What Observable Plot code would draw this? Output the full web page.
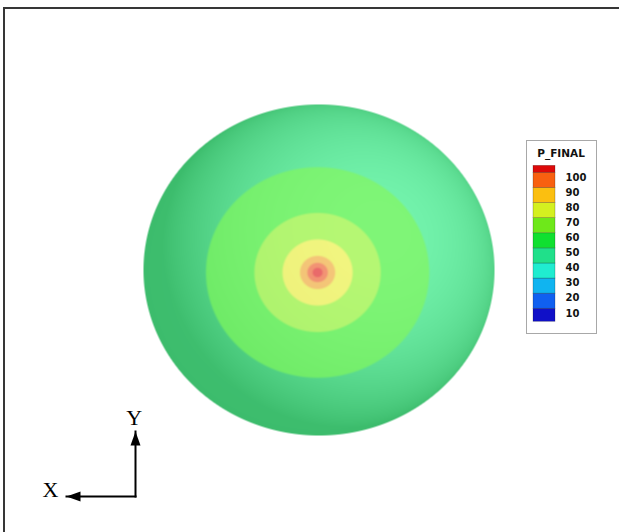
<!DOCTYPE html>
<html>
<head>
<meta charset="utf-8">
<script src="https://cdn.jsdelivr.net/npm/d3@7"></script>
<script src="https://cdn.jsdelivr.net/npm/@observablehq/plot@0.6"></script>
<style>
  html, body { margin: 0; padding: 0; background: #fff; }
  #wrap { position: relative; width: 619px; height: 532px; overflow: hidden; background: #fff; }
  #frame { position: absolute; left: 3px; top: 7px; right: -10px; bottom: -10px;
           border-top: 2px solid #363636; border-left: 2px solid #363636; }
  #sphere { position: absolute; left: 0; top: 0; width: 619px; height: 532px; }
  #legend { position: absolute; left: 526px; top: 140px; width: 69px; height: 192px;
            border: 1px solid #a8a8a8; background: #fff; }
  #triad { position: absolute; left: 30px; top: 400px; width: 130px; height: 110px; }
</style>
</head>
<body>
<div id="wrap">
  <div id="frame"></div>
  <div id="sphere"></div>
  <div id="legend"></div>
  <div id="triad"></div>
</div>
<script>
// ---------------- DATA ----------------
// contour bands on the sphere, outer to inner (lower bound of each band)
const contourLevels = [40, 50, 60, 70, 80, 90, 100];
// radius (fraction of sphere radius) at which each band begins
const contourRadius = [1.0, 0.636, 0.36, 0.2, 0.1, 0.058, 0.028];
// location of the pressure peak (sphere units)
const peakX = -0.008;
const peakY = -0.015;

// legend
const legendTitle = "P_FINAL";
const legendLevels = [100, 90, 80, 70, 60, 50, 40, 30, 20, 10];
const legendBandLo = [1.4, 10, 20, 30, 40, 50, 60, 70, 80, 90, 100];
const legendBandHi = [10, 20, 30, 40, 50, 60, 70, 80, 90, 100, 104.6];

// coordinate triad
const axisNames = ["X", "Y"];
const axisDX = [-1, 0];
const axisDY = [0, 1];

// ---------------- STYLE ----------------
const legendColors = ["#1010c8", "#1060f0", "#10b4f0", "#20ecd0", "#20e08a", "#10e030",
                      "#6ee81a", "#d4f020", "#fbbf10", "#f86010", "#dd0a0a"];
const bandLit = {40: [118, 246, 176], 50: [128, 246, 120], 60: [182, 248, 116], 70: [242, 246, 128],
                 80: [246, 200, 122], 90: [244, 150, 118], 100: [236, 108, 108]};
const bandShadow = {40: [48, 176, 94], 50: [98, 226, 90], 60: [160, 232, 98], 70: [226, 228, 110],
                    80: [228, 176, 102], 90: [226, 124, 98], 100: [215, 90, 90]};
const xRange = [143, 494];
const yRange = [435, 104];
const light = (() => { const v = [0.45, 0.3, 0.84]; const n = Math.hypot(...v); return v.map(d => d / n); })();

// ---------------- SPHERE ----------------
const Rpx = ((xRange[1] - xRange[0]) + (yRange[0] - yRange[1])) / 4;
const soft = 2.2;
const mixRGB = (a, b, t) => [a[0] + (b[0] - a[0]) * t, a[1] + (b[1] - a[1]) * t, a[2] + (b[2] - a[2]) * t];
const clamp01 = v => Math.max(0, Math.min(1, v));

function sphereColor(x, y) {
  const rho = Math.hypot(x, y);
  const cov = clamp01((1 - rho) * Rpx + 0.5);
  if (cov <= 0) return "white";
  const z = Math.sqrt(Math.max(0, 1 - rho * rho));
  const ndl = Math.max(0, x * light[0] + y * light[1] + z * light[2]);
  const t = clamp01((0.22 + 0.78 * ndl) * (0.75 + 0.25 * z));
  const d = Math.hypot(x - peakX, y - peakY);
  let c = mixRGB(bandShadow[contourLevels[0]], bandLit[contourLevels[0]], t);
  for (let i = 1; i < contourLevels.length; ++i) {
    const w = clamp01((contourRadius[i] - d) * Rpx / soft + 0.5);
    if (w === 0) break;
    const lv = contourLevels[i];
    c = mixRGB(c, mixRGB(bandShadow[lv], bandLit[lv], t), w);
  }
  c = mixRGB([255, 255, 255], c, cov);
  return `rgb(${Math.round(c[0])},${Math.round(c[1])},${Math.round(c[2])})`;
}

const spherePlot = Plot.plot({
  width: 619,
  height: 532,
  x: {domain: [-1, 1], range: xRange, axis: null},
  y: {domain: [-1, 1], range: yRange, axis: null},
  color: {type: "identity"},
  style: {background: "transparent", maxWidth: "none"},
  marks: [
    Plot.raster({x1: -1, x2: 1, y1: -1, y2: 1, fill: sphereColor})
  ]
});
document.getElementById("sphere").append(spherePlot);

// ---------------- LEGEND ----------------
const bands = legendBandLo.map((lo, i) => ({lo, hi: legendBandHi[i]}));
const legendPlot = Plot.plot({
  width: 69,
  height: 192,
  marginLeft: 6,
  marginRight: 41,
  marginTop: 0,
  marginBottom: 0,
  x: {axis: null},
  y: {domain: [10, 100], range: [167.3, 31.3], axis: null},
  color: {type: "ordinal", domain: legendBandLo, range: legendColors},
  style: {background: "transparent", maxWidth: "none", fontFamily: "DejaVu Sans", fontWeight: "bold", fontSize: "10px", color: "#111"},
  marks: [
    Plot.rect(bands, {y1: "lo", y2: "hi", fill: "lo", stroke: "#000", strokeOpacity: 0.3, strokeWidth: 0.7}),
    Plot.text(legendLevels, {y: d => d, text: d => String(d), frameAnchor: "right", textAnchor: "start", dx: 10, dy: 4.5}),
    Plot.text([legendTitle], {text: d => d, frameAnchor: "top", textAnchor: "middle", lineAnchor: "middle", dx: 16.5, dy: 12, fontSize: 10.5})
  ]
});
document.getElementById("legend").append(legendPlot);

// ---------------- TRIAD ----------------
const axesData = axisNames.map((name, i) => ({name, dx: axisDX[i], dy: axisDY[i]}));
const arrowHead = {
  draw(ctx) {
    ctx.moveTo(0, 0);
    ctx.lineTo(-5, 14);
    ctx.lineTo(5, 14);
    ctx.closePath();
  }
};
const triadPlot = Plot.plot({
  width: 130,
  height: 110,
  x: {domain: [-1, 0], range: [36, 105], axis: null},
  y: {domain: [0, 1], range: [96, 31], axis: null},
  style: {background: "transparent", maxWidth: "none", fontFamily: "Liberation Serif", fontSize: "22px", color: "#000"},
  marks: [
    Plot.link(axesData, {x1: () => 0, y1: () => 0, x2: "dx", y2: "dy", stroke: "#000", strokeWidth: 2, strokeLinecap: "square"}),
    Plot.dot(axesData, {x: "dx", y: "dy", symbol: arrowHead, r: 6, fill: "#000", stroke: "none",
                        rotate: d => Math.atan2(d.dx, d.dy) * 180 / Math.PI}),
    Plot.text(axesData.filter(d => d.name === "X"), {x: "dx", y: "dy", text: "name", dx: -16, dy: -7, lineAnchor: "middle"}),
    Plot.text(axesData.filter(d => d.name === "Y"), {x: "dx", y: "dy", text: "name", dx: -1.3, dy: -13.7, lineAnchor: "middle"})
  ]
});
document.getElementById("triad").append(triadPlot);
</script>
</body>
</html>
